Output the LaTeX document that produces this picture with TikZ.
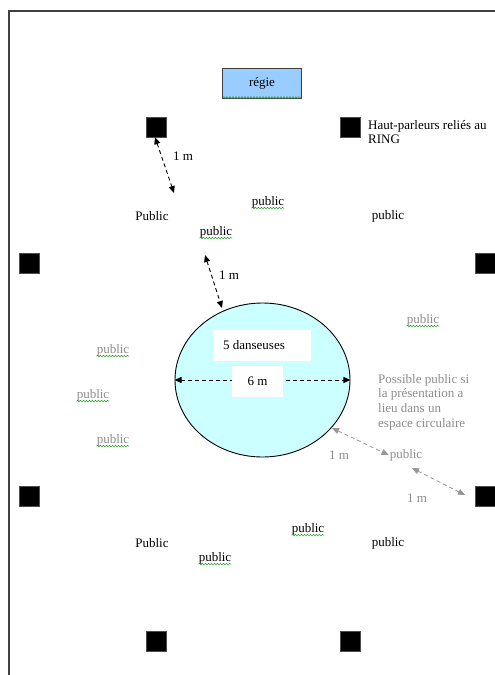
\documentclass[tikz,border=0pt]{standalone}
\usepackage{fontspec}
\setmainfont{Liberation Serif}
\usetikzlibrary{arrows.meta,shapes.geometric,decorations.pathmorphing}
\definecolor{regieblue}{RGB}{153,204,255}
\definecolor{stagecyan}{RGB}{204,255,255}
\definecolor{greytext}{RGB}{140,140,140}
\definecolor{spellgreen}{RGB}{40,160,40}
\tikzset{
  speaker/.style={fill=black,draw=black!70,minimum size=20pt,inner sep=0pt},
  txt/.style={inner sep=1pt,font=\fontsize{13}{14.7}\selectfont},
  greytxt/.style={txt,text=greytext},
  dist/.style={<->,>={Triangle[length=7pt,width=6pt]},dash pattern=on 4pt off 3pt,line width=0.9pt},
  greydist/.style={dist,draw=greytext!90,line width=0.8pt},
  wavy/.style={spellgreen,line width=0.5pt,decorate,decoration={snake,amplitude=0.9pt,segment length=3pt}}
}
\begin{document}
\begin{tikzpicture}[x=1pt,y=-1pt]
    \useasboundingbox (0,0) rectangle (495,675);
    % page frame
    \draw[black!75,line width=1.2pt] (9,675) -- (9,11) -- (495,11);
    % regie
    \node[draw=black!75,line width=1pt,fill=regieblue,minimum width=79pt,minimum height=30pt,txt] (regie) at (262,83) {régie};
    % speakers
    \foreach \n/\x/\y in {sptl/156/127,sptr/350/127,spml/29/263,spmr/485/263,
                          spll/29/496,splr/485/496,spbl/156/641,spbr/350/641}
        {\node[speaker] (\n) at (\x,\y) {};
        }
    \node[txt,anchor=north west,align=left] (hp) at (367,119) {Haut-parleurs reliés au\\RING};
    % stage
    \node[ellipse,draw=black,line width=0.9pt,fill=stagecyan,minimum width=175pt,minimum height=154pt,inner sep=0pt] (stage) at (262.5,380) {};
    \node[fill=white,minimum width=98pt,minimum height=31pt,txt] (danse) at (262,345) {};
    \node[txt] at (254,345) {5 danseuses};
    \draw[dist] (stage.west) -- (stage.east);
    \node[fill=white,minimum width=51pt,minimum height=31pt,txt] (six) at (257.5,381.5) {6 m};
    % public
    \node[txt] (pa) at (152,216) {Public};
    \node[txt] (pb) at (268,202) {public};
    \node[txt] (pc) at (216,232) {public};
    \node[txt] (pd) at (388,216) {public};
    \node[txt] (pe) at (152,543) {Public};
    \node[txt] (pf) at (215,558) {public};
    \node[txt] (pg) at (308,529) {public};
    \node[txt] (ph) at (388,543) {public};
    \node[greytxt] (gl1) at (113,350) {public};
    \node[greytxt] (gl2) at (93,395) {public};
    \node[greytxt] (gl3) at (113,440) {public};
    \node[greytxt] (gr) at (423,320) {public};
    \node[greytxt] (gc) at (406,455) {public};
    \foreach \n in {regie,pb,pc,pf,pg,gl1,gl2,gl3,gr}
        {\draw[wavy] ([xshift=1pt,yshift=1pt]\n.south west) -- ([xshift=-1pt,yshift=1pt]\n.south east);
        }
    \node[greytxt,anchor=north west,align=left] (poss) at (377,373) {Possible public si\\la présentation a\\lieu dans un\\espace circulaire};
    % distances
    \coordinate (a1) at (174,193);
    \draw[dist] ([xshift=-1pt]sptl.south) -- (a1);
    \node[txt] (m1) at (183,156) {1 m};
    \coordinate (a2) at (205,255);
    \coordinate (a3) at (222,308);
    \draw[dist] (a2) -- (a3);
    \node[txt] (m2) at (229,275) {1 m};
    \coordinate (g1) at (332,428);
    \draw[greydist] (g1) -- (gc.west);
    \node[greytxt] (m3) at (339,455) {1 m};
    \coordinate (g2) at (412,468);
    \coordinate (g3) at (465,495);
    \draw[greydist] (g2) -- (g3);
    \node[greytxt] (m4) at (417,498) {1 m};
\end{tikzpicture}
\end{document}
